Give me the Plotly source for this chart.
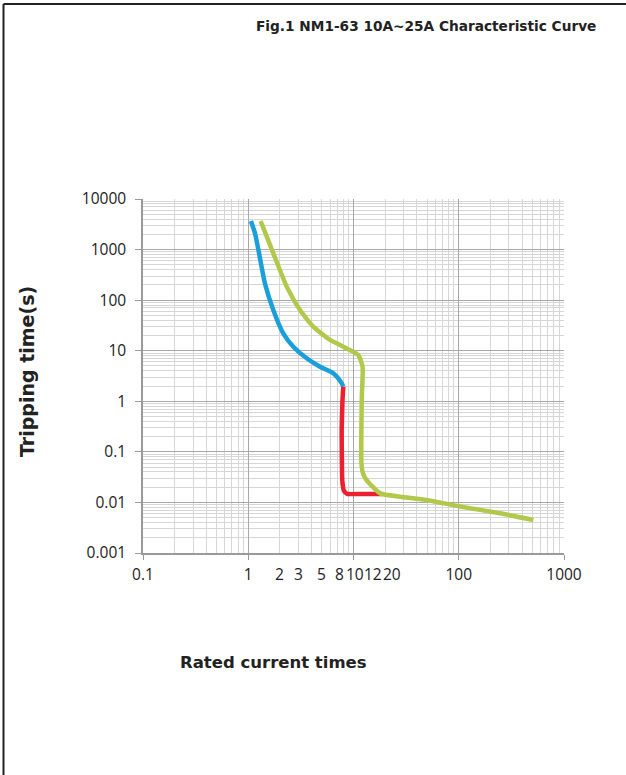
import math
import plotly.graph_objects as go

# ---- data ----
blue_x = [1.06, 1.16, 1.25, 1.44, 1.73, 2.15, 2.68, 3.59, 4.81, 6.43, 7.72, 8.0]
blue_y = [3670, 2090, 980, 215, 64, 22, 12, 7.1, 4.83, 3.57, 2.27, 1.95]

red_x = [8.0, 7.85, 7.72, 7.75, 7.82, 8.1, 8.7, 12, 18.5]
red_y = [1.95, 1.0, 0.27, 0.08, 0.0277, 0.017, 0.0148, 0.0147, 0.0147]

green_x = [1.31, 1.5, 1.73, 2.32, 3.1, 4.15, 5.98, 8.6, 11.1, 12.2, 12.0, 11.9,
           12.3, 13.3, 17.9, 27.7, 49.5, 103, 246, 511]
green_y = [3670, 1800, 843, 185, 64, 29.9, 16.3, 11.1, 8.2, 4.8, 1.23, 0.059,
           0.0377, 0.0277, 0.0151, 0.013, 0.0112, 0.0083, 0.0061, 0.00449]

x_major = [0.1, 1, 10, 100, 1000]
x_major_text = ["0.1", "1", "", "100", "1000"]
x_extra = [2, 3, 5, 8, 10, 12, 20]
x_extra_text = ["2", "3", "5", "8", "10", "12", "20"]
y_ticks = [0.001, 0.01, 0.1, 1, 10, 100, 1000, 10000]
y_text = ["0.001", "0.01", "0.1", "1", "10", "100", "1000", "10000"]

title = "Fig.1 NM1-63 10A~25A Characteristic Curve"
x_title = "Rated current times"
y_title = "Tripping time(s)"

# horizontal nudges (px) of the crowded extra labels, as laid out in the reference
extra_shift = [0, 0, 0, -4, 1, 11, 7]

W, H = 626, 775
L, R, T, B = 143, 62, 199, 222
pw, ph = W - L - R, H - T - B

def px(x):
    return (x - L) / pw

def py(y):
    return (H - B - y) / ph

fig = go.Figure()
line_w = 4.5
fig.add_trace(go.Scatter(x=blue_x, y=blue_y, mode="lines",
                         line=dict(color="#1a9fdb", width=line_w, shape="spline", smoothing=0.6),
                         showlegend=False))
fig.add_trace(go.Scatter(x=red_x, y=red_y, mode="lines",
                         line=dict(color="#ec1f2e", width=line_w, shape="spline", smoothing=0.5),
                         showlegend=False))
fig.add_trace(go.Scatter(x=green_x, y=green_y, mode="lines",
                         line=dict(color="#b2c84a", width=line_w, shape="spline", smoothing=0.5),
                         showlegend=False))

tick_font = dict(family="Open Sans, sans-serif", size=15.5, color="#222222")
title_family = "DejaVu Sans, sans-serif"

annotations = [
    dict(text="<b>" + title + "</b>", xref="paper", yref="paper",
         x=px(598), y=py(26), xanchor="right", yanchor="middle", showarrow=False,
         font=dict(family=title_family, size=13.7, color="#222222")),
    dict(text="<b>" + x_title + "</b>", xref="paper", yref="paper",
         x=px(273), y=py(662), xanchor="center", yanchor="middle", showarrow=False,
         font=dict(family=title_family, size=16.5, color="#222222")),
    dict(text="<b>" + y_title + "</b>", xref="paper", yref="paper",
         x=px(27), y=py(372), xanchor="center", yanchor="middle", showarrow=False,
         textangle=-90,
         font=dict(family=title_family, size=19, color="#222222")),
]
# annotations on a log axis take log10 positions
for v, t, s in zip(x_extra, x_extra_text, extra_shift):
    annotations.append(dict(text=t, xref="x", yref="paper", x=math.log10(v), y=0,
                            xanchor="center", yanchor="middle", yshift=-21, xshift=s,
                            borderpad=0, showarrow=False, font=tick_font))

fig.update_layout(
    width=W, height=H,
    margin=dict(l=L, r=R, t=T, b=B),
    paper_bgcolor="white", plot_bgcolor="white",
    xaxis=dict(type="log", range=[-1, 3], tickvals=x_major, ticktext=x_major_text,
               tickangle=0,
               showgrid=True, gridcolor="#a8a8a8", gridwidth=1,
               minor=dict(dtick="D1", showgrid=True, gridcolor="#d6d6d6", gridwidth=1),
               showline=True, linecolor="#9a9a9a", linewidth=1.5,
               ticks="outside", ticklen=5, tickcolor="#9a9a9a", ticklabelstandoff=2,
               tickfont=tick_font, zeroline=False),
    yaxis=dict(type="log", range=[-3, 4], tickvals=y_ticks, ticktext=y_text,
               showgrid=True, gridcolor="#a8a8a8", gridwidth=1,
               minor=dict(dtick="D1", showgrid=True, gridcolor="#d6d6d6", gridwidth=1),
               showline=True, linecolor="#9a9a9a", linewidth=1.5,
               ticks="outside", ticklen=6, tickcolor="#9a9a9a", ticklabelstandoff=6,
               tickfont=tick_font, zeroline=False),
    annotations=annotations,
    shapes=[
        dict(type="line", xref="paper", yref="paper", x0=px(3.5), x1=px(626), y0=py(4), y1=py(4),
             line=dict(color="#222222", width=2)),
        dict(type="line", xref="paper", yref="paper", x0=px(3.5), x1=px(3.5), y0=py(4), y1=py(775),
             line=dict(color="#222222", width=2)),
    ],
)

fig.write_html("out.html")
